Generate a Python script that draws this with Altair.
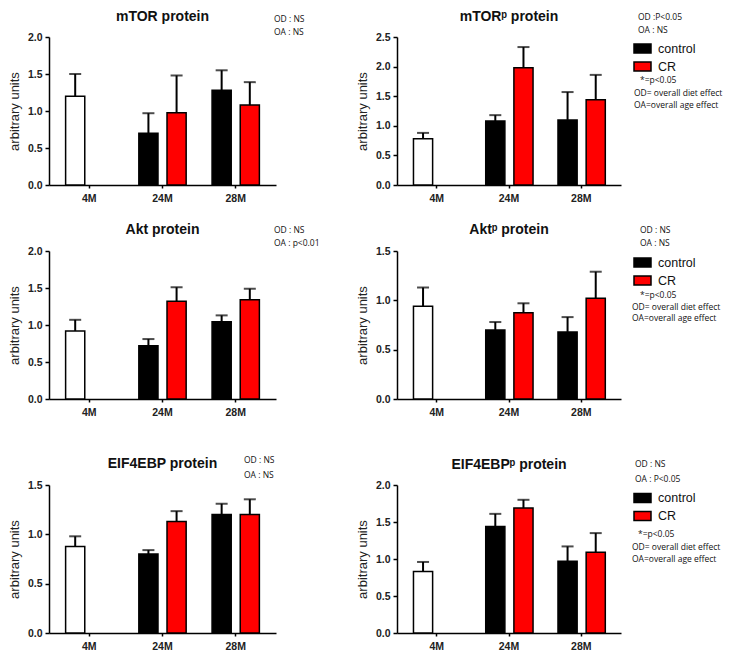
import altair as alt
import pandas as pd

# ---------------- data ----------------
ages = ["4M", "24M", "24M", "28M", "28M"]
groups = ["young", "control", "CR", "control", "CR"]
slots = ["a", "a", "b", "a", "b"]
age_order = ["4M", "24M", "28M"]

mtor_mean = [1.20, 0.70, 0.975, 1.28, 1.08]
mtor_upper = [1.50, 0.97, 1.48, 1.55, 1.39]
mtorp_mean = [0.78, 1.08, 1.98, 1.10, 1.44]
mtorp_upper = [0.88, 1.18, 2.33, 1.57, 1.86]
akt_mean = [0.92, 0.72, 1.32, 1.045, 1.34]
akt_upper = [1.07, 0.81, 1.51, 1.13, 1.49]
aktp_mean = [0.94, 0.70, 0.875, 0.68, 1.02]
aktp_upper = [1.13, 0.78, 0.97, 0.83, 1.29]
eif_mean = [0.877, 0.80, 1.13, 1.20, 1.20]
eif_upper = [0.98, 0.84, 1.235, 1.31, 1.355]
eifp_mean = [0.83, 1.44, 1.69, 0.97, 1.09]
eifp_upper = [0.96, 1.61, 1.80, 1.17, 1.35]

titles = ["mTOR protein", "mTORᵖ protein", "Akt protein", "Aktᵖ protein",
          "EIF4EBP protein", "EIF4EBPᵖ protein"]
y_max = [2.0, 2.5, 2.0, 1.5, 1.5, 2.0]
y_ticks = [[0.0, 0.5, 1.0, 1.5, 2.0], [0.0, 0.5, 1.0, 1.5, 2.0, 2.5],
           [0.0, 0.5, 1.0, 1.5, 2.0], [0.0, 0.5, 1.0, 1.5],
           [0.0, 0.5, 1.0, 1.5], [0.0, 0.5, 1.0, 1.5, 2.0]]
stat_notes = ["OD : NS\nOA : NS", "OD :P<0.05\nOA : NS", "OD : NS\nOA : p<0.01",
              "OD : NS\nOA : NS", "OD : NS\nOA : NS", "OD : NS\nOA : P<0.05"]
star_note = "*=p<0.05"
key_note = "OD= overall diet effect\nOA=overall age effect"
y_title = "arbitrary units"
legend_values = ["control", "CR"]
fill_domain = ["young", "control", "CR"]
fill_range = ["#ffffff", "#000000", "#ff0000"]

means = [mtor_mean, mtorp_mean, akt_mean, aktp_mean, eif_mean, eifp_mean]
uppers = [mtor_upper, mtorp_upper, akt_upper, aktp_upper, eif_upper, eifp_upper]

FONT = "Liberation Sans"
NOTE_FONT = "Open Sans"
NOTE_SIZE = 8.5

# layout (pixels, relative to each plot area; y = first text line)
left_w, right_w, plot_h = 227, 224, 148
title_y = [-20, -20, -21, -21, -21, -20]
stat_pos = [(225, -17.7, 12.7), (241, -20, 13), (225, -21, 13.3),
            (243, -21, 13.3), (195, -24.7, 15), (238, -20.7, 14.4)]
legend_pos = {1: (236, 2), 3: (236, 2), 5: (236, 3.5)}
star_pos = {1: (243, 43), 3: (243, 44), 5: (241, 48.7)}
key_pos = {1: (237, 56, 12.3), 3: (235, 55.7, 11.7), 5: (235, 62, 12.3)}


def note(text, x, y, lh):
    return alt.Chart(pd.DataFrame({"t": [text]})).mark_text(
        align="left", baseline="middle", lineBreak="\n", lineHeight=lh,
        font=NOTE_FONT, fontSize=NOTE_SIZE, color="#111"
    ).encode(x=alt.value(x), y=alt.value(y), text="t:N")


def panel(i):
    width = left_w if i % 2 == 0 else right_w
    df = pd.DataFrame({"age": ages, "group": groups, "slot": slots,
                       "mean": means[i], "upper": uppers[i]})
    x = alt.X("age:N", sort=age_order,
              scale=alt.Scale(paddingInner=0.2, paddingOuter=0.15),
              axis=alt.Axis(title=None, labelAngle=0, tickSize=3,
                            labelPadding=5, labelFontSize=10.5))
    xo = alt.XOffset("slot:N", scale=alt.Scale(domain=["a", "b"],
                                               paddingInner=0.32, paddingOuter=0.2))
    y_scale = alt.Scale(domain=[0, y_max[i]], nice=False)
    y_axis = alt.Axis(title=y_title, values=y_ticks[i], format=".1f",
                      tickSize=4, labelPadding=3, titlePadding=6)
    if i in legend_pos:
        lx, ly = legend_pos[i]
        leg = alt.Legend(orient="none", legendX=lx, legendY=ly, title=None,
                         values=legend_values,
                         symbolType="M-1,-0.53H1V0.53H-1Z", symbolSize=289,
                         symbolStrokeColor="black", symbolStrokeWidth=1.5,
                         labelFont=FONT, labelFontSize=12.5, labelOffset=6,
                         labelColor="#111", rowPadding=0, padding=0)
    else:
        leg = None
    fill = alt.Fill("group:N", scale=alt.Scale(domain=fill_domain, range=fill_range),
                    legend=leg)
    base = alt.Chart(df)
    bars = base.mark_bar(stroke="black", strokeWidth=1.5).encode(
        x=x, xOffset=xo, y=alt.Y("mean:Q", scale=y_scale, axis=y_axis), fill=fill)
    err = base.mark_rule(color="black", strokeWidth=2).encode(
        x=x, xOffset=xo, y=alt.Y("mean:Q", scale=y_scale, axis=y_axis), y2="upper:Q")
    cap = base.mark_tick(color="black", thickness=2, size=12, orient="horizontal").encode(
        x=x, xOffset=xo, y=alt.Y("upper:Q", scale=y_scale, axis=y_axis))
    head = alt.Chart(pd.DataFrame({"t": [titles[i]]})).mark_text(
        align="center", baseline="middle", font=FONT, fontSize=14,
        fontWeight="bold", color="#111"
    ).encode(x=alt.value(width / 2), y=alt.value(title_y[i]), text="t:N")
    layers = [bars, err, cap, head]
    sx, sy, slh = stat_pos[i]
    layers.append(note(stat_notes[i], sx, sy, slh))
    if i in star_pos:
        layers.append(note(star_note, *star_pos[i], 12))
        layers.append(note(key_note, *key_pos[i]))
    return alt.layer(*layers).properties(width=width, height=plot_h)


panels = [panel(i) for i in range(6)]
rows = [alt.hconcat(panels[2 * r], panels[2 * r + 1], spacing=121, bounds="flush")
        .resolve_scale(fill="independent") for r in range(3)]
top = alt.vconcat(rows[0], rows[1], spacing=19).resolve_scale(fill="independent")
chart = alt.vconcat(top, rows[2], spacing=38).resolve_scale(
    fill="independent"
).properties(
    padding={"left": 0, "top": 2, "right": 0, "bottom": 0}
).configure_view(stroke=None).configure_axis(
    grid=False, domainColor="black", domainWidth=1.5, tickColor="black", tickWidth=1.5,
    labelFont=FONT, labelFontWeight="bold", labelFontSize=10.5, labelColor="#222",
    titleFont=FONT, titleFontWeight="normal", titleFontSize=13, titleColor="#222"
)

chart.save("out.html", embed_options={"renderer": "svg", "actions": False})
